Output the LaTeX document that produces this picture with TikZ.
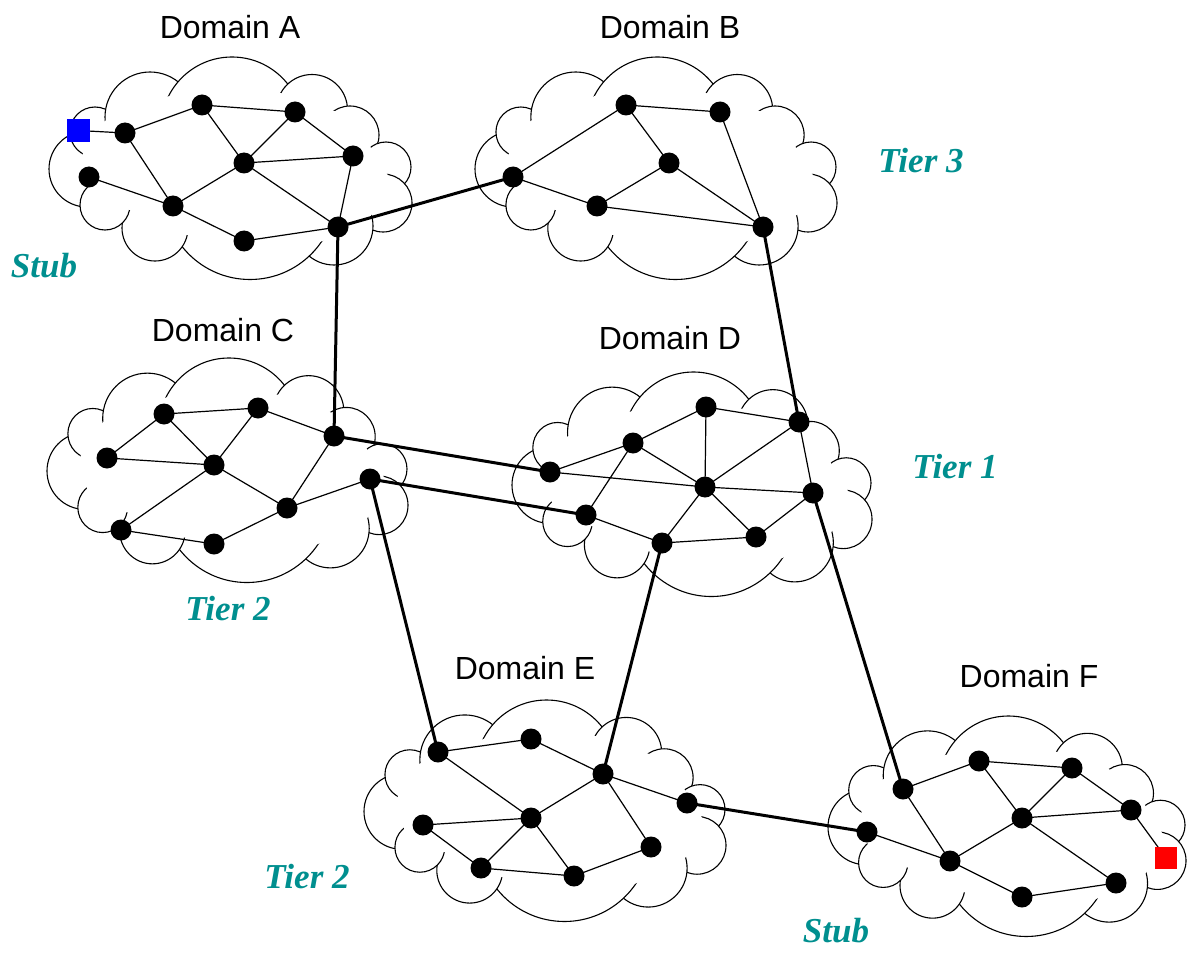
\documentclass[tikz,border=0pt]{standalone}
\usepackage{fontspec}
\usetikzlibrary{calc}
\setmainfont{Liberation Serif}
\newfontfamily\arialfont{Liberation Sans}
\definecolor{tealtxt}{RGB}{0,143,143}
\definecolor{sqblue}{RGB}{0,0,255}
\definecolor{sqred}{RGB}{255,0,0}
\tikzset{
  cloudline/.style={line width=0.55pt, black},
  dot/.style={circle, fill=black, draw=none, inner sep=0pt, minimum size=10.5pt},
  sq/.style={rectangle, draw=none, inner sep=0pt, minimum size=11.3pt},
  link/.style={line width=0.6pt},
  trunk/.style={line width=1.5pt},
  domlabel/.style={font=\arialfont\fontsize{16}{19}\selectfont, anchor=base, inner sep=0pt},
  tierlabel/.style={font=\fontsize{17.5}{21}\selectfont\bfseries\itshape, text=tealtxt, anchor=base, inner sep=0pt}
}
% cloud template traced on Domain A (box 48..413 x 57..278), scaled to the given box
\newcommand\drawcloud[4]{%
  \begin{scope}[shift={(#1,#2)}, xscale={(#3-#1)/365}, yscale={(#4-#2)/221}, shift={(-48,-57)}]
    \foreach \cx/\cy/\r in {87/169/38, 95/132/25, 150/117/45, 232/128/71, 312/110/35.5,
        350/135/29, 386/167/25, 383/203/29, 334/226/39, 250/193/86.5, 155/228/33, 105/205/25}
      \filldraw[cloudline, fill=white] (\cx,\cy) circle[radius=\r];
    \coordinate (cc) at (230,168);
    \fill[white] ($(70,135)!5pt!(cc)$) -- ($(105,111)!5pt!(cc)$) -- ($(177,83)!5pt!(cc)$)
      -- ($(287,85)!5pt!(cc)$) -- ($(348,108)!5pt!(cc)$) -- ($(380,145)!5pt!(cc)$)
      -- ($(405,188)!5pt!(cc)$) -- ($(373,228)!5pt!(cc)$) -- ($(308,257)!5pt!(cc)$)
      -- ($(180,243)!5pt!(cc)$) -- ($(122,214)!5pt!(cc)$) -- ($(83,207)!5pt!(cc)$) -- cycle;
  \end{scope}}
\begin{document}
\begin{tikzpicture}[x=0.5pt, y=-0.5pt]
\useasboundingbox (0,0) rectangle (1187,952);
% clouds
\drawcloud{48}{57}{413}{278}
\drawcloud{474}{57}{838}{278}
\drawcloud{46}{358}{409}{581}
\drawcloud{511}{372}{873}{595}
\drawcloud{363}{700}{727}{920}
\drawcloud{827}{716}{1187}{935}
% labels
\node[domlabel] (lA) at (230,39) {Domain A};
\node[domlabel] (lB) at (670,39) {Domain B};
\node[domlabel] (lC) at (223,341) {Domain C};
\node[domlabel] (lD) at (670,349) {Domain D};
\node[domlabel] (lE) at (525,679) {Domain E};
\node[domlabel] (lF) at (1029,687) {Domain F};
\node[tierlabel] (t3) at (921,173) {Tier 3};
\node[tierlabel] (s1) at (44,277) {Stub};
\node[tierlabel] (t1) at (955,478) {Tier 1};
\node[tierlabel] (t2a) at (228,620) {Tier 2};
\node[tierlabel] (t2b) at (307,888) {Tier 2};
\node[tierlabel] (s2) at (836,942) {Stub};
% coordinates of routers
\coordinate (a2) at (125,133); \coordinate (a3) at (202,105); \coordinate (a4) at (295,112);
\coordinate (a5) at (353,156); \coordinate (a6) at (244,163); \coordinate (a7) at (89,177);
\coordinate (a8) at (173,206); \coordinate (a9) at (244,241); \coordinate (a10) at (338,227);
\coordinate (sqA) at (78.5,130.5);
\coordinate (b1) at (513,177); \coordinate (b2) at (626,105); \coordinate (b3) at (720,112);
\coordinate (b4) at (669,163); \coordinate (b5) at (597,206); \coordinate (b6) at (763,227);
\coordinate (c1) at (164,414); \coordinate (c2) at (258,408); \coordinate (c3) at (107,458);
\coordinate (c4) at (214,465); \coordinate (c5) at (334,436); \coordinate (c6) at (370,479);
\coordinate (c7) at (287,508); \coordinate (c8) at (121,530); \coordinate (c9) at (214,544);
\coordinate (d1) at (706,407); \coordinate (d2) at (799,422); \coordinate (d3) at (633,443);
\coordinate (d4) at (550,472); \coordinate (d5) at (705,487); \coordinate (d6) at (813,493);
\coordinate (d7) at (586,515); \coordinate (d8) at (662,543); \coordinate (d9) at (756,537);
\coordinate (e1) at (438,752); \coordinate (e2) at (531,739); \coordinate (e3) at (603,774);
\coordinate (e4) at (687,803); \coordinate (e5) at (531,818); \coordinate (e6) at (423,825);
\coordinate (e7) at (481,868); \coordinate (e8) at (574,876); \coordinate (e9) at (651,847);
\coordinate (f1) at (903,789); \coordinate (f2) at (979,761); \coordinate (f3) at (1072,768);
\coordinate (f4) at (1131,810); \coordinate (f5) at (1022,818); \coordinate (f6) at (867,832);
\coordinate (f7) at (950,861); \coordinate (f8) at (1022,897); \coordinate (f9) at (1116,883);
\coordinate (sqF) at (1166,858);
% intra-domain links
\draw[link] (sqA)--(a2) (a2)--(a3) (a3)--(a4) (a2)--(a8) (a3)--(a6) (a4)--(a6) (a4)--(a5)
  (a6)--(a5) (a6)--(a8) (a6)--(a10) (a5)--(a10) (a7)--(a8) (a8)--(a9) (a9)--(a10);
\draw[link] (b1)--(b2) (b2)--(b3) (b2)--(b4) (b3)--(b6) (b4)--(b5) (b4)--(b6) (b1)--(b5) (b5)--(b6);
\draw[link] (c1)--(c2) (c1)--(c3) (c1)--(c4) (c3)--(c4) (c2)--(c4) (c2)--(c5) (c5)--(c7)
  (c4)--(c7) (c4)--(c8) (c8)--(c9) (c9)--(c7) (c7)--(c6);
\draw[link] (d1)--(d2) (d1)--(d3) (d1)--(d5) (d2)--(d5) (d3)--(d4) (d3)--(d5) (d3)--(d7)
  (d4)--(d5) (d5)--(d6) (d5)--(d8) (d5)--(d9) (d7)--(d8) (d8)--(d9) (d9)--(d6) (d2)--(d6);
\draw[link] (e1)--(e2) (e2)--(e3) (e1)--(e5) (e3)--(e5) (e3)--(e4) (e3)--(e9) (e6)--(e5)
  (e6)--(e7) (e5)--(e7) (e5)--(e8) (e7)--(e8) (e8)--(e9);
\draw[link] (f1)--(f2) (f2)--(f3) (f2)--(f5) (f3)--(f5) (f3)--(f4) (f5)--(f4) (f1)--(f7)
  (f6)--(f7) (f5)--(f7) (f5)--(f9) (f7)--(f8) (f8)--(f9) (f4)--(sqF);
% inter-domain trunks
\draw[trunk] (a10)--(b1) (a10)--(c5) (b6)--(d2) (c5)--(d4) (c6)--(d7) (c6)--(e1)
  (d8)--(e3) (d6)--(f1) (e4)--(f6);
% routers
\foreach \n in {a2,a3,a4,a5,a6,a7,a8,a9,a10,b1,b2,b3,b4,b5,b6,c1,c2,c3,c4,c5,c6,c7,c8,c9,
  d1,d2,d3,d4,d5,d6,d7,d8,d9,e1,e2,e3,e4,e5,e6,e7,e8,e9,f1,f2,f3,f4,f5,f6,f7,f8,f9}
  \node[dot] (n\n) at (\n) {};
\node[sq, fill=sqblue] (hostA) at (sqA) {};
\node[sq, fill=sqred] (hostF) at (sqF) {};
\end{tikzpicture}
\end{document}
